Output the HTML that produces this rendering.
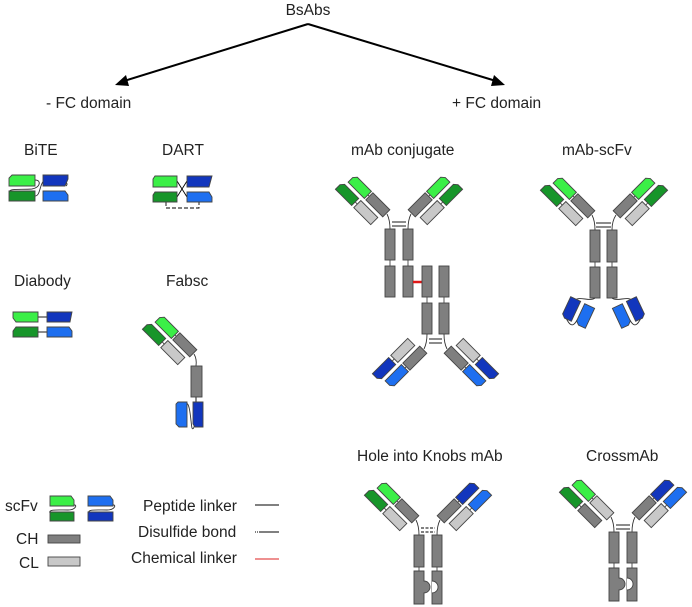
<!DOCTYPE html>
<html><head><meta charset="utf-8"><style>
html,body{margin:0;padding:0;background:#fff}
svg{display:block}
text{font-family:"Liberation Sans",sans-serif;font-size:15.5px;fill:#222}
</style></head><body>
<svg width="692" height="607" viewBox="0 0 692 607" xmlns="http://www.w3.org/2000/svg">
<defs>
<g id="armG" stroke="#444" stroke-width="0.9">
 <line x1="-27" y1="0" x2="-25" y2="0"/><line x1="-31" y1="14" x2="-28" y2="14"/>
 <polygon points="-47,-5 -27,-5 -27,5 -50,5 -50,-1.5" fill="#3bef47"/>
 <rect x="-25" y="-5" width="24" height="10" fill="#7f7f7f"/>
 <rect x="-28" y="9" width="24" height="10" fill="#c8c8c8"/>
 <polygon points="-51,9 -31,9 -31,19 -54,19 -54,12.5" fill="#17952a"/>
</g>
<g id="armX" stroke="#444" stroke-width="0.9">
 <line x1="-27" y1="0" x2="-25" y2="0"/><line x1="-31" y1="14" x2="-28" y2="14"/>
 <polygon points="-47,-5 -27,-5 -27,5 -50,5 -50,-1.5" fill="#3bef47"/>
 <rect x="-25" y="-5" width="24" height="10" fill="#c8c8c8"/>
 <rect x="-28" y="9" width="24" height="10" fill="#7f7f7f"/>
 <polygon points="-51,9 -31,9 -31,19 -54,19 -54,12.5" fill="#17952a"/>
</g>
<g id="armBb" stroke="#444" stroke-width="0.9">
 <line x1="-27" y1="0" x2="-25" y2="0"/><line x1="-31" y1="14" x2="-28" y2="14"/>
 <polygon points="-47,-5 -27,-5 -27,5 -50,5 -50,-1.5" fill="#1e6ff0"/>
 <rect x="-25" y="-5" width="24" height="10" fill="#7f7f7f"/>
 <rect x="-28" y="9" width="24" height="10" fill="#c8c8c8"/>
 <polygon points="-51,9 -31,9 -31,19 -54,19 -54,12.5" fill="#1236bd"/>
</g>
<g id="armBd" stroke="#444" stroke-width="0.9">
 <line x1="-27" y1="0" x2="-25" y2="0"/><line x1="-31" y1="14" x2="-28" y2="14"/>
 <polygon points="-47,-5 -27,-5 -27,5 -50,5 -50,-1.5" fill="#1236bd"/>
 <rect x="-25" y="-5" width="24" height="10" fill="#7f7f7f"/>
 <rect x="-28" y="9" width="24" height="10" fill="#c8c8c8"/>
 <polygon points="-51,9 -31,9 -31,19 -54,19 -54,12.5" fill="#1e6ff0"/>
</g>
</defs>

<text x="308" y="15" text-anchor="middle">BsAbs</text>
<line x1="308" y1="24" x2="124" y2="81" stroke="#000" stroke-width="2"/>
<polygon points="115,85 126,75 129,86" fill="#000"/>
<line x1="308" y1="24" x2="496" y2="81" stroke="#000" stroke-width="2"/>
<polygon points="505,85 494,75 491,86" fill="#000"/>
<text x="46" y="108">- FC domain</text>
<text x="452" y="108">+ FC domain</text>

<text x="24" y="155">BiTE</text>
<text x="162" y="155">DART</text>
<text x="351" y="155">mAb conjugate</text>
<text x="562" y="155">mAb-scFv</text>
<text x="14" y="286">Diabody</text>
<text x="166" y="286">Fabsc</text>
<text x="357" y="461">Hole into Knobs mAb</text>
<text x="586" y="461">CrossmAb</text>

<g stroke="#444" stroke-width="0.9">
<path d="M35,180 C42,180 40,188 32,189 C22,190 8,188 10,192" fill="none" stroke="#333"/>
<path d="M35,196 C42,196 38,178 50,178 C62,178 70,183 66,186" fill="none" stroke="#333"/>
<polygon points="12,175 35,175 35,186 9,186 9,178" fill="#3bef47"/>
<polygon points="9,191 35,191 35,201 9,201" fill="#17952a"/>
<polygon points="43,175 68,175 68,179 65,186 43,186" fill="#1236bd"/>
<polygon points="43,191 65,191 68,195 68,201 43,201" fill="#1e6ff0"/>
<line x1="177" y1="181" x2="187" y2="197" stroke="#000"/>
<line x1="177" y1="197" x2="187" y2="181" stroke="#000"/>
<path d="M166,202 V208 H199 V202" fill="none" stroke="#000" stroke-dasharray="4,2"/>
<polygon points="155,176 177,176 177,187 153,187 153,179" fill="#3bef47"/>
<polygon points="155,192 177,192 177,202 153,202 153,195" fill="#17952a"/>
<polygon points="187,176 212,176 209,187 187,187" fill="#1236bd"/>
<polygon points="187,192 209,192 212,197 212,202 187,202" fill="#1e6ff0"/>
<line x1="38" y1="317" x2="47" y2="317" stroke="#000"/>
<line x1="38" y1="332" x2="47" y2="332" stroke="#000"/>
<polygon points="13,312 38,312 38,322 16,322 13,318" fill="#3bef47"/>
<polygon points="16,327 38,327 38,337 13,337 13,331" fill="#17952a"/>
<polygon points="47,312 72,312 70,322 47,322" fill="#1236bd"/>
<polygon points="47,327 69,327 72,331 72,337 47,337" fill="#1e6ff0"/>
<path d="M194,354 Q197,359 196,366" fill="none" stroke="#333"/>
<line x1="196" y1="397" x2="196" y2="402" stroke="#000"/>
<use href="#armG" transform="translate(194,354) rotate(45)"/>
<rect x="191" y="366" width="11" height="31" fill="#7f7f7f"/>
<path d="M186,404 C190,400 191,425 192,428 C194,432 196,420 197,404" fill="none" stroke="#333"/>
<polygon points="178,402 187,402 187,427 179,427 176,424 176,404" fill="#1e6ff0"/>
<polygon points="193,402 203,402 203,427 195,427 193,424" fill="#1236bd"/>

<path d="M387,214 Q390,220 390,229" fill="none" stroke="#333"/>
<path d="M411,214 Q408,220 408,229" fill="none" stroke="#333"/>
<line x1="392" y1="222" x2="406" y2="222" stroke="#000"/><line x1="392" y1="226" x2="406" y2="226" stroke="#000"/>
<use href="#armG" transform="translate(387,214) rotate(45)"/>
<use href="#armG" transform="translate(411,214) scale(-1,1) rotate(45)"/>
<line x1="390" y1="260" x2="390" y2="266"/><line x1="408" y1="260" x2="408" y2="266"/>
<rect x="385" y="229" width="10" height="31" fill="#7f7f7f"/><rect x="403" y="229" width="10" height="31" fill="#7f7f7f"/>
<rect x="385" y="266" width="10" height="31" fill="#7f7f7f"/><rect x="403" y="266" width="10" height="31" fill="#7f7f7f"/>
<line x1="413" y1="282" x2="422" y2="282" stroke="#e01818" stroke-width="2.5"/>
<line x1="427" y1="297" x2="427" y2="303"/><line x1="444" y1="297" x2="444" y2="303"/>
<rect x="422" y="266" width="10" height="31" fill="#7f7f7f"/><rect x="439" y="266" width="10" height="31" fill="#7f7f7f"/>
<rect x="422" y="303" width="10" height="31" fill="#7f7f7f"/><rect x="439" y="303" width="10" height="31" fill="#7f7f7f"/>
<path d="M427,334 Q427,343 424,349" fill="none" stroke="#333"/>
<path d="M444,334 Q444,343 447,349" fill="none" stroke="#333"/>
<line x1="429" y1="339" x2="442" y2="339" stroke="#000"/><line x1="429" y1="343" x2="442" y2="343" stroke="#000"/>
<use href="#armBb" transform="translate(424,349) scale(1,-1) rotate(45)"/>
<use href="#armBb" transform="translate(447,349) scale(-1,-1) rotate(45)"/>

<path d="M592,215 Q595,221 595,230" fill="none" stroke="#333"/>
<path d="M616,215 Q612,221 612,230" fill="none" stroke="#333"/>
<line x1="596" y1="223" x2="611" y2="223" stroke="#000"/><line x1="596" y1="227" x2="611" y2="227" stroke="#000"/>
<use href="#armG" transform="translate(592,215) rotate(45)"/>
<use href="#armG" transform="translate(616,215) scale(-1,1) rotate(45)"/>
<line x1="595" y1="262" x2="595" y2="267"/><line x1="612" y1="262" x2="612" y2="267"/>
<rect x="590" y="230" width="10" height="32" fill="#7f7f7f"/><rect x="607" y="230" width="10" height="32" fill="#7f7f7f"/>
<rect x="590" y="267" width="10" height="31" fill="#7f7f7f"/><rect x="607" y="267" width="10" height="31" fill="#7f7f7f"/>
<path d="M595,298 C590,302 580,296 575,300 M577,320 C572,330 568,322 566,318" fill="none" stroke="#333"/>
<path d="M612,298 C617,302 627,296 632,300 M630,320 C635,330 639,322 641,318" fill="none" stroke="#333"/>
<g transform="translate(571,309) rotate(25)"><polygon points="-5.5,-11 5.5,-11 5.5,11 -2,11 -5.5,8" fill="#1236bd"/></g>
<g transform="translate(585,316) rotate(25)"><polygon points="-5.5,-11 5.5,-11 5.5,11 -2,11 -5.5,8" fill="#1e6ff0"/></g>
<g transform="translate(636,309) rotate(-25)"><polygon points="-5.5,-11 5.5,-11 5.5,8 2,11 -5.5,11" fill="#1236bd"/></g>
<g transform="translate(622,316) rotate(-25)"><polygon points="-5.5,-11 5.5,-11 5.5,8 2,11 -5.5,11" fill="#1e6ff0"/></g>

<path d="M416,520 Q419,526 419,535" fill="none" stroke="#333"/>
<path d="M440,520 Q437,526 437,535" fill="none" stroke="#333"/>
<line x1="421" y1="528" x2="435" y2="528" stroke="#000" stroke-dasharray="3,1.5"/><line x1="421" y1="532" x2="435" y2="532" stroke="#000" stroke-dasharray="3,1.5"/>
<use href="#armG" transform="translate(416,520) rotate(45)"/>
<use href="#armBd" transform="translate(440,520) scale(-1,1) rotate(45)"/>
<line x1="419" y1="567" x2="419" y2="571"/><line x1="437" y1="567" x2="437" y2="571"/>
<rect x="414" y="535" width="10" height="32" fill="#7f7f7f"/><rect x="432" y="535" width="10" height="32" fill="#7f7f7f"/>
<rect x="432" y="571" width="10" height="33" fill="#7f7f7f"/>
<path d="M432,581 A6,6 0 0 1 432,593" fill="#fff"/>
<path d="M414,571 H424 V581 A6,6 0 0 1 424,593 V604 H414 Z" fill="#7f7f7f"/>

<path d="M611,517 Q614,523 614,532" fill="none" stroke="#333"/>
<path d="M635,517 Q632,523 632,532" fill="none" stroke="#333"/>
<line x1="616" y1="525" x2="630" y2="525" stroke="#000"/><line x1="616" y1="529" x2="630" y2="529" stroke="#000"/>
<use href="#armX" transform="translate(611,517) rotate(45)"/>
<use href="#armBd" transform="translate(635,517) scale(-1,1) rotate(45)"/>
<line x1="614" y1="563" x2="614" y2="568"/><line x1="632" y1="563" x2="632" y2="568"/>
<rect x="609" y="532" width="10" height="31" fill="#7f7f7f"/><rect x="627" y="532" width="10" height="31" fill="#7f7f7f"/>
<rect x="627" y="568" width="10" height="33" fill="#7f7f7f"/>
<path d="M627,578 A6,6 0 0 1 627,590" fill="#fff"/>
<path d="M609,568 H619 V578 A6,6 0 0 1 619,590 V601 H609 Z" fill="#7f7f7f"/>

<path d="M73,505 C78,504 76,510 68,510 C58,510 48,509 50,513" fill="none" stroke="#333"/>
<path d="M112,505 C117,504 115,510 107,510 C97,510 87,509 89,513" fill="none" stroke="#333"/>
<polygon points="50,496 71,496 74,500 74,506 50,506" fill="#3bef47"/>
<polygon points="50,512 74,512 74,521 50,521" fill="#17952a"/>
<polygon points="88,496 110,496 113,500 113,506 88,506" fill="#1e6ff0"/>
<polygon points="88,512 113,512 113,521 88,521" fill="#1236bd"/>
<rect x="48" y="535" width="32" height="8" fill="#7f7f7f"/>
<rect x="48" y="557" width="32" height="9" fill="#c8c8c8"/>
</g>
<text x="5" y="511">scFv</text>
<text x="16" y="544">CH</text>
<text x="19" y="568">CL</text>
<text x="143" y="511">Peptide linker</text>
<text x="138" y="537">Disulfide bond</text>
<text x="131" y="563">Chemical linker</text>
<line x1="255" y1="505" x2="279" y2="505" stroke="#000"/>
<line x1="255" y1="532" x2="258" y2="532" stroke="#000" stroke-dasharray="1,1"/><line x1="259" y1="532" x2="279" y2="532" stroke="#000"/>
<line x1="255" y1="559" x2="279" y2="559" stroke="#d22"/>
</svg>
</body></html>
